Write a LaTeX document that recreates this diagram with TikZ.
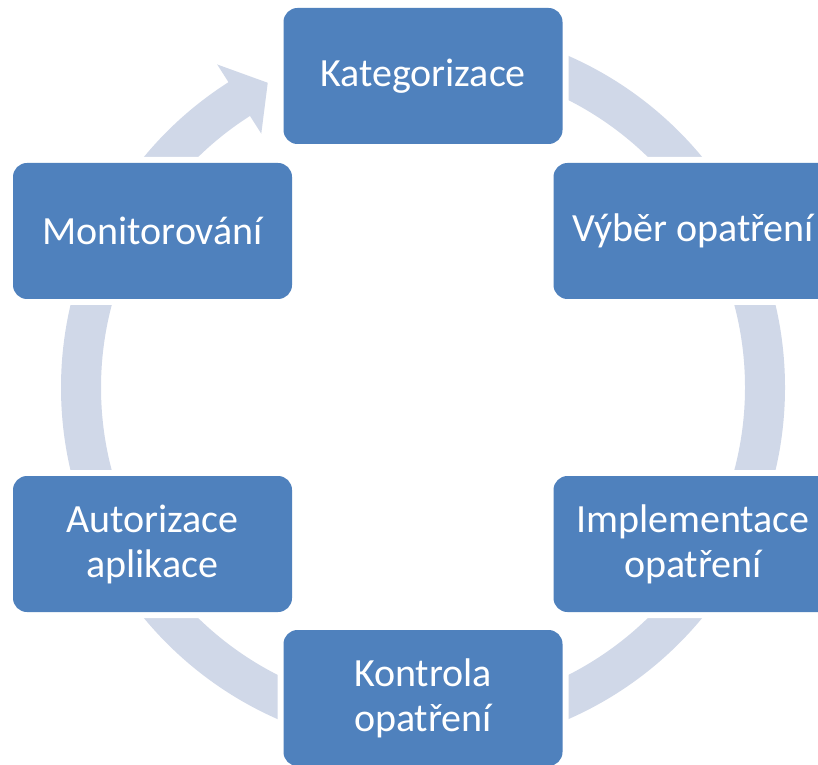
\documentclass[tikz,border=0pt]{standalone}
\usepackage{fontspec}
\setmainfont{Carlito}
\usetikzlibrary{calc}
\definecolor{boxblue}{HTML}{4F81BD}
\definecolor{ringcol}{HTML}{D0D8E8}
\tikzset{
  stepbox/.style={rectangle, rounded corners=14pt, fill=boxblue,
    minimum width=279pt, minimum height=136pt, inner sep=0pt,
    text=white, align=center, font=\fontsize{40}{45}\selectfont,
    preaction={draw=white, line width=12pt}},
  ringarc/.style={draw=ringcol, line width=40pt, line cap=butt}
}
\begin{document}
\begin{tikzpicture}[x=1pt,y=1pt]
\useasboundingbox (0,0) rectangle (818,764);
\clip (0,0) rectangle (818,764);
\fill[white] (0,0) rectangle (818,764);
\coordinate (C) at (423,376.5);
% ring with arrow
\draw[ringarc] ($(C)+(90:342)$) arc[start angle=90, end angle=-238, radius=342];
\fill[ringcol] ($(C)+(122.5:383)$) -- ($(C)+(117:342)$) -- ($(C)+(122.5:301)$) -- cycle;
% boxes
\node[stepbox] (kat) at (423,688) {Kategorizace};
\node[stepbox] (vyb) at (693,533) {Výběr opatření};
\node[stepbox] (imp) at (693,220) {Implementace\\opatření};
\node[stepbox] (kon) at (423,66) {Kontrola\\opatření};
\node[stepbox] (aut) at (152.5,220) {Autorizace\\aplikace};
\node[stepbox] (mon) at (152.5,533) {Monitorování};
\end{tikzpicture}
\end{document}
